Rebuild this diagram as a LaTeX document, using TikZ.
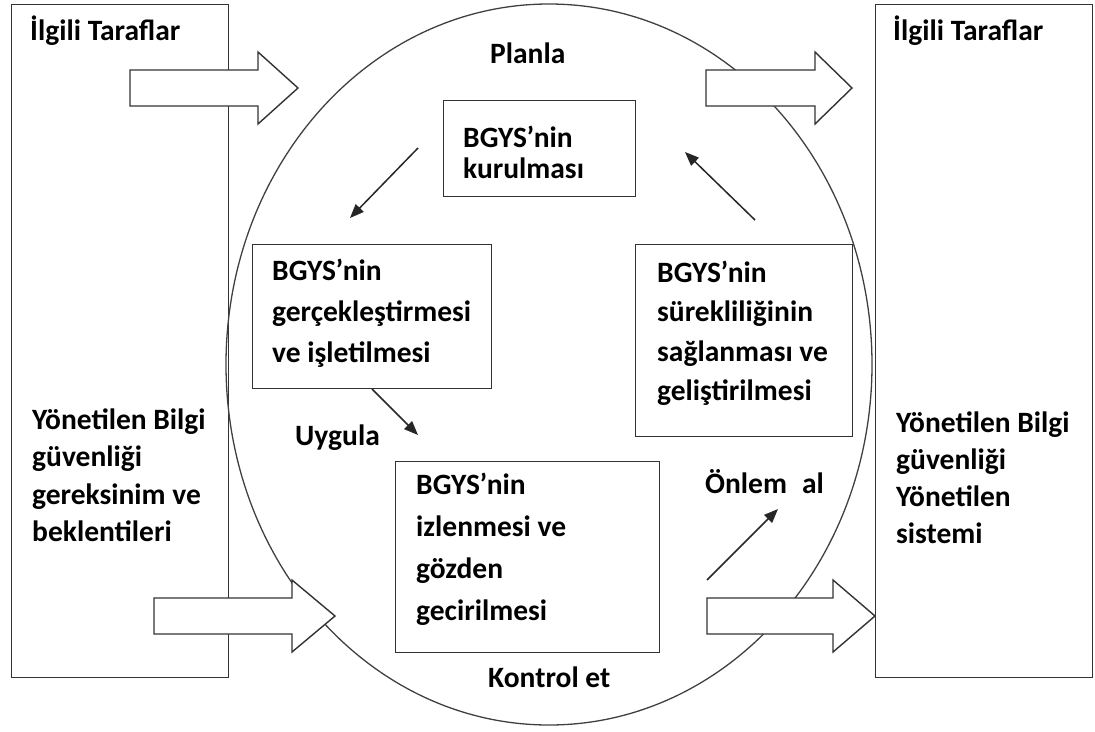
\documentclass[tikz,border=0pt]{standalone}
\usepackage{fontspec}
\setmainfont{Carlito}
\usetikzlibrary{arrows.meta,shapes.geometric}
\begin{document}
\begin{tikzpicture}[x=1pt,y=-1pt,
  frame/.style={draw=black!80,line width=1.4pt,inner sep=0pt,anchor=north west},
  % multi-line labels are placed at the baseline of their last line
  txt/.style={font=\fontsize{29.5}{#1}\selectfont\bfseries,inner sep=0pt,anchor=base west,align=left},
  txt/.default=40,
  flow/.style={draw=black!85,line width=1.5pt,-{Triangle[length=14pt,width=11pt]}},
  barrow/.style={draw=black!80,fill=white,line width=1.4pt,line join=miter}
]
\useasboundingbox (0,0) rectangle (1095,731);

% outer frames for the two groups of parties
\node[frame,minimum width=217,minimum height=673] (lframe) at (11,4) {};
\node[frame,minimum width=217,minimum height=673] (rframe) at (875,4) {};

% the PDCA cycle
\node[ellipse,draw=black!75,line width=1.3pt,minimum width=646,minimum height=721,inner sep=0pt] (cycle) at (549,364.5) {};

% process boxes
\node[frame,minimum width=192,minimum height=96]  (kur) at (443,100) {};
\node[frame,minimum width=239,minimum height=144] (ger) at (252,244) {};
\node[frame,minimum width=217,minimum height=192] (sur) at (635,244) {};
\node[frame,minimum width=264,minimum height=191] (izl) at (395,461) {};

% thin arrows of the cycle
\coordinate (a1s) at (418,148); \coordinate (a1e) at (350,218);
\coordinate (a2s) at (755,220); \coordinate (a2e) at (685,152);
\coordinate (a3s) at (372,389); \coordinate (a3e) at (418,435);
\coordinate (a4s) at (707,580); \coordinate (a4e) at (778,509);
\draw[flow] (a1s) -- (a1e);
\draw[flow] (a2s) -- (a2e);
\draw[flow] (a3s) -- (a3e);
\draw[flow] (a4s) -- (a4e);

% block arrows: start x, shaft end x, tip x, centre y
\newcommand\BlockArrow[4]{%
  \draw[barrow] (#1,#4-18) -- (#2,#4-18) -- (#2,#4-36) -- (#3,#4)
    -- (#2,#4+36) -- (#2,#4+18) -- (#1,#4+18) -- cycle;}
\BlockArrow{130}{258}{298}{88}
\BlockArrow{706}{815}{852}{88}
\BlockArrow{154}{292}{335}{616}
\BlockArrow{707}{833}{875}{616}

% texts
\node[txt] (lt1) at (30,40) {İlgili Taraflar};
\node[txt] (rt1) at (893,40) {İlgili Taraflar};
\node[txt=37.5] (lt2) at (32,541.5) {Yönetilen Bilgi\\güvenliği\\gereksinim ve\\beklentileri};
\node[txt=37] (rt2) at (896,543) {Yönetilen Bilgi\\güvenliği\\Yönetilen\\sistemi};

\node[txt=31] (kurt) at (463,178) {BGYS’nin\\kurulması};
\node[txt=41] (gert) at (272,362) {BGYS’nin\\gerçekleştirmesi\\ve işletilmesi};
\node[txt=39.5] (surt) at (657,400.5) {BGYS’nin\\sürekliliğinin\\sağlanması ve\\geliştirilmesi};
\node[txt=41.7] (izlt) at (416,620) {BGYS’nin\\izlenmesi ve\\gözden\\gecirilmesi};

\node[txt] (plan) at (490,63) {Planla};
\node[txt] (kontrol) at (488,687) {Kontrol et};
\node[txt] (uygula) at (295,445) {Uygula};
\node[txt] (onlem) at (705,493) {Önlem\hspace{15pt}al};
\end{tikzpicture}
\end{document}
